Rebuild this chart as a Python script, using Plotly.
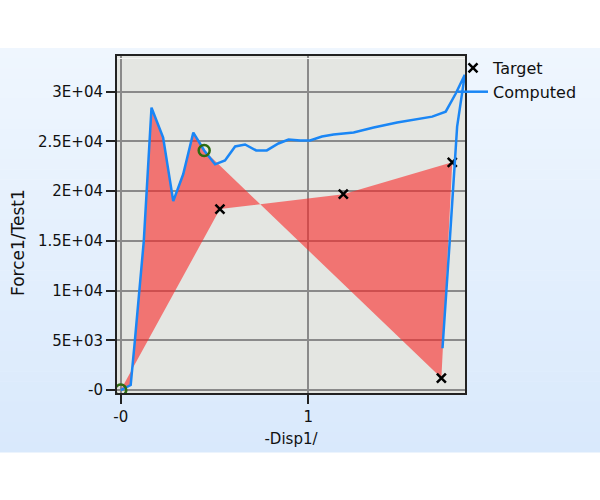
import plotly.graph_objects as go

# ---- data ----
computed_x = [0.0, 0.053, 0.075, 0.101, 0.123, 0.164, 0.226, 0.28, 0.333, 0.387, 0.445,
              0.503, 0.556, 0.61, 0.663, 0.722, 0.779, 0.841, 0.895, 0.957, 1.01,
              1.073, 1.135, 1.242, 1.349, 1.474, 1.661, 1.733, 1.786, 1.835,
              1.794, 1.755, 1.716]
computed_y = [0, 500, 4900, 10000, 15000, 28400, 25400, 19000, 21700, 25900, 24100,
              22700, 23100, 24500, 24700, 24100, 24100, 24800, 25200, 25100, 25100,
              25500, 25700, 25900, 26400, 26900, 27500, 28000, 29800, 31700,
              26500, 15100, 4200]
match_index = 10  # computed point where the comparison ends (green circle)

target_x = [0.0, 0.529, 1.187, 1.768, 1.71]
target_y = [0, 18200, 19700, 22900, 1200]

marker_x = [0.0, 0.445]
marker_y = [0, 24100]

y_tickvals = [0, 5000, 10000, 15000, 20000, 25000, 30000]
y_ticktext = ["-0", "5E+03", "1E+04", "1.5E+04", "2E+04", "2.5E+04", "3E+04"]
x_tickvals = [0, 1]
x_ticktext = ["-0", "1"]

# ---- figure ----
fill_x = computed_x[:match_index + 1] + target_x[::-1]
fill_y = computed_y[:match_index + 1] + target_y[::-1]

fig = go.Figure()
fig.add_trace(go.Scatter(x=fill_x, y=fill_y, mode="none", fill="toself",
                         fillcolor="rgba(250,40,40,0.6)", showlegend=False,
                         hoverinfo="skip"))
fig.add_trace(go.Scatter(x=target_x[1:], y=target_y[1:], mode="markers", name="Target",
                         marker=dict(symbol="x-thin", size=9, color="black",
                                     line=dict(width=2.5, color="black"))))
fig.add_trace(go.Scatter(x=computed_x, y=computed_y, mode="lines", name="Computed",
                         line=dict(color="#1a86f5", width=2.5)))
fig.add_trace(go.Scatter(x=marker_x, y=marker_y, mode="markers", showlegend=False,
                         marker=dict(symbol="circle-open", size=11, color="#2d6b10",
                                     line=dict(width=2.5, color="#2d6b10"))))

# background gradient band (paper coords)
L, R, T, B = 117, 465, 56, 393
W, H = R - L, B - T
def px2x(p):
    return (p - L) / W
def py2y(p):
    return (B - p) / H

shapes = []
n = 40
top, bot = 48, 452
c0 = (239, 246, 254)
c1 = (217, 233, 252)
for i in range(n):
    f = i / (n - 1)
    col = "rgb(%d,%d,%d)" % tuple(round(c0[k] + (c1[k] - c0[k]) * f) for k in range(3))
    ya = top + (bot - top) * i / n
    yb = top + (bot - top) * (i + 1) / n + 0.5
    shapes.append(dict(type="rect", xref="paper", yref="paper", layer="below",
                       x0=px2x(0), x1=px2x(600), y0=py2y(ya), y1=py2y(yb),
                       fillcolor=col, line=dict(width=0)))
shapes.append(dict(type="rect", xref="x domain", yref="y domain", layer="below",
                   x0=0, x1=1, y0=0, y1=1, fillcolor="#e4e6e2", line=dict(width=0)))
# light inner highlight along top frame
shapes.append(dict(type="line", xref="x domain", yref="paper", layer="above",
                   x0=0, x1=1, y0=py2y(58.5), y1=py2y(58.5),
                   line=dict(color="#f4f4f4", width=1)))

font = "DejaVu Sans"
fig.update_layout(
    width=600, height=500,
    margin=dict(l=L, r=600 - R, t=T, b=500 - B, pad=0),
    paper_bgcolor="white", plot_bgcolor="#e4e6e2",
    font=dict(family=font, size=15, color="#111"),
    shapes=shapes,
    showlegend=True,
    legend=dict(x=px2x(453), xanchor="left", y=py2y(51), yanchor="top",
                bgcolor="rgba(0,0,0,0)", font=dict(size=16, color="#111"),
                tracegroupgap=0, itemwidth=30),
    annotations=[dict(text="Force1/Test1", xref="paper", yref="paper",
                      x=px2x(18), y=py2y(243), xanchor="center", yanchor="middle",
                      textangle=-90, showarrow=False, font=dict(size=17, color="#111"))],
    xaxis=dict(range=[-0.02, 1.836], tickvals=x_tickvals, ticktext=x_ticktext,
               showgrid=True, gridcolor="#8a8a8a", gridwidth=1.5,
               zeroline=True, zerolinecolor="#8a8a8a", zerolinewidth=1.5,
               showline=True, mirror=True, linecolor="#222", linewidth=2,
               ticks="outside", ticklen=9, tickwidth=1.5, tickcolor="#222",
               title=dict(text="-Disp1/", standoff=8, font=dict(size=15))),
    yaxis=dict(range=[-300, 33600], tickvals=y_tickvals, ticktext=y_ticktext,
               showgrid=True, gridcolor="#8a8a8a", gridwidth=1.5,
               zeroline=True, zerolinecolor="#8a8a8a", zerolinewidth=1.5,
               showline=True, mirror=True, linecolor="#222", linewidth=2,
               ticks="outside", ticklen=9, tickwidth=1.5, tickcolor="#222"),
)

fig.write_html("out.html", config={"displayModeBar": False},
               post_script="document.body.style.margin='0';document.body.style.overflow='hidden';")
